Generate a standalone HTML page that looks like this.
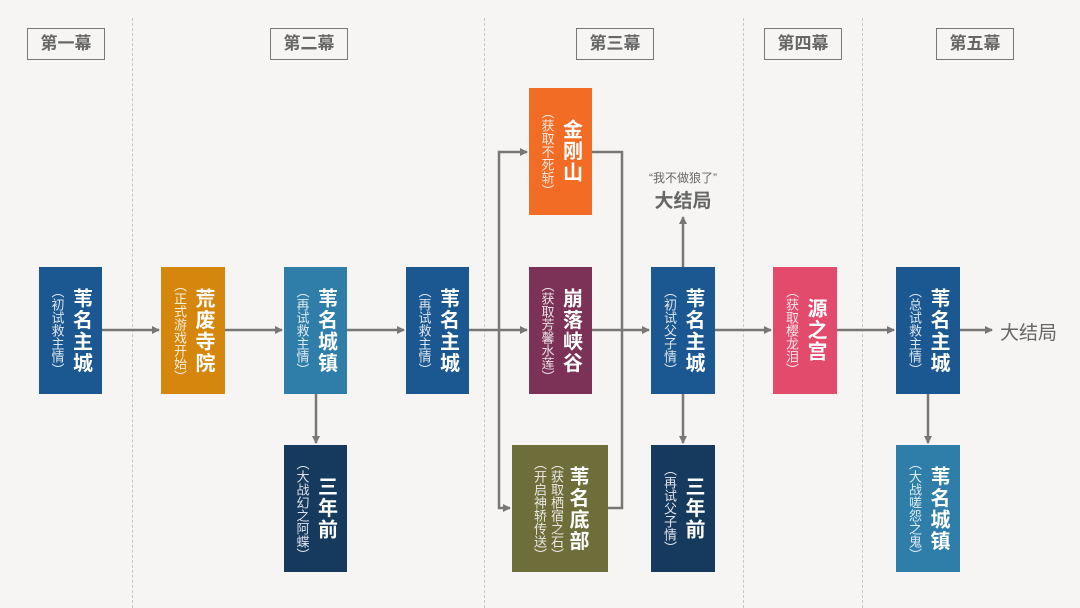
<!DOCTYPE html>
<html><head><meta charset="utf-8">
<style>
html,body{margin:0;padding:0}
body{width:1080px;height:608px;background:#f6f5f3;position:relative;overflow:hidden;font-family:"Liberation Sans","Noto Sans CJK SC",sans-serif}
.h{position:absolute;top:28px;width:78px;height:32px;border:1.5px solid #777;box-sizing:border-box;color:#666;font-size:17px;text-align:center;line-height:29px;font-weight:bold}
.b{position:absolute;display:flex;justify-content:center;align-items:center;gap:6px;color:#fff}
.b span{writing-mode:vertical-rl;display:block}
.t{font-size:20px;font-weight:bold;line-height:22px;letter-spacing:1.5px}
.s{font-size:13px;line-height:14px;opacity:.85}
.v{position:absolute;top:18px;width:0;height:590px;border-left:1px dashed #c8c8c8}
svg{position:absolute;left:0;top:0}
.txt{position:absolute;color:#666}
</style></head><body>
<div class="v" style="left:132px"></div>
<div class="v" style="left:484px"></div>
<div class="v" style="left:743px"></div>
<div class="v" style="left:862px"></div>

<div class="h" style="left:27px">第一幕</div>
<div class="h" style="left:270px">第二幕</div>
<div class="h" style="left:576px">第三幕</div>
<div class="h" style="left:764px">第四幕</div>
<div class="h" style="left:936px">第五幕</div>

<svg width="1080" height="608">
<defs><marker id="a" markerWidth="8" markerHeight="8" refX="7" refY="4" orient="auto" markerUnits="userSpaceOnUse"><path d="M0,0 L8,4 L0,8 z" fill="#777"/></marker></defs>
<g stroke="#777" stroke-width="2.5" fill="none">
<line x1="102" y1="330" x2="159" y2="330" marker-end="url(#a)"/>
<line x1="225" y1="330" x2="282" y2="330" marker-end="url(#a)"/>
<line x1="347" y1="330" x2="404" y2="330" marker-end="url(#a)"/>
<line x1="469" y1="330" x2="527" y2="330" marker-end="url(#a)"/>
<polyline points="499,330 499,152 527,152" marker-end="url(#a)"/>
<polyline points="499,330 499,508 510,508" marker-end="url(#a)"/>
<polyline points="592,152 622,152 622,508 608,508"/>
<line x1="592" y1="330" x2="649" y2="330" marker-end="url(#a)"/>
<line x1="715" y1="330" x2="771" y2="330" marker-end="url(#a)"/>
<line x1="837" y1="330" x2="894" y2="330" marker-end="url(#a)"/>
<line x1="960" y1="330" x2="992" y2="330" marker-end="url(#a)"/>
<line x1="316" y1="394" x2="316" y2="443" marker-end="url(#a)"/>
<line x1="683" y1="394" x2="683" y2="443" marker-end="url(#a)"/>
<line x1="928" y1="394" x2="928" y2="443" marker-end="url(#a)"/>
<line x1="683" y1="267" x2="683" y2="217" marker-end="url(#a)"/>
</g></svg>

<div class="b" style="left:39px;top:267px;width:63px;height:127px;background:#1b5791"><span class="s">（初试救主情）</span><span class="t">苇名主城</span></div>
<div class="b" style="left:161px;top:267px;width:64px;height:127px;background:#d4870c"><span class="s">（正式游戏开始）</span><span class="t">荒废寺院</span></div>
<div class="b" style="left:284px;top:267px;width:63px;height:127px;background:#2e7ea9"><span class="s">（再试救主情）</span><span class="t">苇名城镇</span></div>
<div class="b" style="left:284px;top:445px;width:63px;height:127px;background:#153a5e"><span class="s">（大战幻之阿蝶）</span><span class="t">三年前</span></div>
<div class="b" style="left:406px;top:267px;width:63px;height:127px;background:#1b5791"><span class="s">（再试救主情）</span><span class="t">苇名主城</span></div>
<div class="b" style="left:529px;top:88px;width:63px;height:127px;background:#f26c26"><span class="s">（获取不死斩）</span><span class="t">金刚山</span></div>
<div class="b" style="left:529px;top:267px;width:63px;height:127px;background:#7b3256"><span class="s">（获取芳馨水莲）</span><span class="t">崩落峡谷</span></div>
<div class="b" style="left:512px;top:445px;width:96px;height:127px;background:#6e6e3b;gap:3px"><span class="s">（开启神轿传送）</span><span class="s">（获取栖宿之石）</span><span class="t">苇名底部</span></div>
<div class="b" style="left:651px;top:267px;width:64px;height:127px;background:#1b5791"><span class="s">（初试父子情）</span><span class="t">苇名主城</span></div>
<div class="b" style="left:651px;top:445px;width:64px;height:127px;background:#153a5e"><span class="s">（再试父子情）</span><span class="t">三年前</span></div>
<div class="b" style="left:773px;top:267px;width:64px;height:127px;background:#e34b6d"><span class="s">（获取樱龙泪）</span><span class="t">源之宫</span></div>
<div class="b" style="left:896px;top:267px;width:64px;height:127px;background:#1b5791"><span class="s">（总试救主情）</span><span class="t">苇名主城</span></div>
<div class="b" style="left:896px;top:445px;width:64px;height:127px;background:#2e7ea9"><span class="s">（大战嗟怨之鬼）</span><span class="t">苇名城镇</span></div>

<div class="txt" style="left:630px;top:169px;width:106px;text-align:center;font-size:12px">“我不做狼了”</div>
<div class="txt" style="left:630px;top:186px;width:106px;text-align:center;font-size:19px;font-weight:bold">大结局</div>
<div class="txt" style="left:1000px;top:318px;font-size:19px">大结局</div>
</body></html>
